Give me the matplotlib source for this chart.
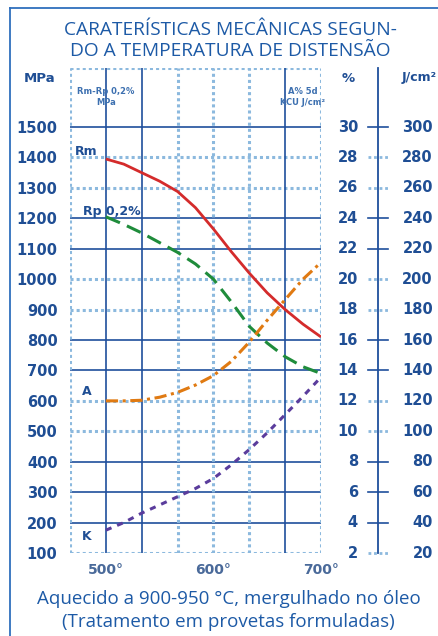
import matplotlib
matplotlib.use('Agg')
import matplotlib.pyplot as plt
from matplotlib.transforms import blended_transform_factory

# data
temps = [500, 516.7, 533.3, 550, 566.7, 583.3, 600, 616.7, 633.3, 650, 666.7, 683.3, 700]
rm = [1395, 1378, 1350, 1322, 1288, 1235, 1165, 1090, 1020, 955, 900, 852, 810]          # MPa
rp = [1205, 1180, 1152, 1120, 1088, 1050, 1000, 925, 845, 790, 745, 712, 690]            # MPa
a_pct = [12.0, 12.0, 12.04, 12.24, 12.56, 13.04, 13.66, 14.6, 15.86, 17.3, 18.66, 20.0, 21.1]  # %
k_j = [35, 40, 46.2, 51.6, 57, 62.4, 69, 78, 88, 99, 111, 123, 135.6]                    # J/cm2

mpa_ticks = list(range(100, 1600, 100))
pct_ticks = list(range(2, 32, 2))
j_ticks = list(range(20, 320, 20))
dark_levels = [1500, 1200, 1100, 800, 700, 400, 300, 200]
x_grid = [466.67, 500, 533.33, 566.67, 600, 633.33, 666.67, 700]
x_dark = [500, 533.33, 666.67]
x_ticks = [500, 600, 700]
x_labels = ["500°", "600°", "700°"]

W, H = 439, 636
BLUE = '#1d5aa6'
DARK = '#1f4f9c'
LIGHT = '#8cb9de'
LABEL = '#1f4e94'

def fx(x):
    return x / W

def fy(y):
    return 1 - y / H

fig = plt.figure(figsize=(W / 100, H / 100), dpi=100)
ax = fig.add_axes([fx(70), fy(553), (321 - 70) / W, (553 - 68) / H])
ax.set_xlim(466.67, 700)
ax.set_ylim(100, 1694)
for s in ax.spines.values():
    s.set_visible(False)

# grid
for v in mpa_ticks:
    if v in dark_levels:
        ax.axhline(v, color=DARK, lw=1.2, zorder=1)
    else:
        ax.axhline(v, color=LIGHT, lw=2.2, ls=(0, (1, 1)), zorder=1)
ax.axhline(1694, color=LIGHT, lw=2.2, ls=(0, (1, 1)), zorder=1)
for v in x_grid:
    if v in x_dark:
        ax.axvline(v, color=DARK, lw=1.2, zorder=1)
    else:
        ax.axvline(v, color=LIGHT, lw=2.2, ls=(0, (1, 1)), zorder=1)

# curves (A and K mapped onto the MPa scale: 1 % = 50 MPa, 1 J/cm2 = 5 MPa)
ax.plot(temps, rm, color='#d42b2b', lw=2.0, solid_capstyle='butt', zorder=3)
ax.plot(temps, rp, color='#1f8c3b', lw=2.2, ls=(0, (5, 2.5)), zorder=3)
ax.plot(temps, [p * 50 for p in a_pct], color='#e07a12', lw=2.2, ls=(0, (4, 1.5, 1, 1.5)), zorder=3)
ax.plot(temps, [j * 5 for j in k_j], color='#5a3c9c', lw=2.2, ls=(0, (2, 2)), zorder=3)

# labels inside
ax.text(471, 1420, "Rm", color=LABEL, fontsize=9, fontweight='bold', va='center')
ax.text(479, 1222, "Rp 0,2%", color=LABEL, fontsize=9, fontweight='bold', va='center')
ax.text(478, 632, "A", color=LABEL, fontsize=9, fontweight='bold', va='center')
ax.text(478, 155, "K", color=LABEL, fontsize=9, fontweight='bold', va='center')

# header cells
ax.text(500, 1600, "Rm-Rp 0,2%\nMPa", color='#3d70b0', fontsize=6, fontweight='bold',
        ha='center', va='center', linespacing=1.3)
ax.text(683, 1600, "A% 5d\nKCU J/cm²", color='#3d70b0', fontsize=6, fontweight='bold',
        ha='center', va='center', linespacing=1.3)

# axes ticks
ax.set_yticks(mpa_ticks)
ax.set_yticklabels([str(v) for v in mpa_ticks], fontsize=10.5, fontweight='bold', color=LABEL)
ax.set_xticks(x_ticks)
ax.set_xticklabels(x_labels, fontsize=10, fontweight='bold', color='#4a6a9a')
ax.tick_params(axis='y', length=0, pad=9)
ax.tick_params(axis='x', length=0, pad=7)

# right-hand scales
tr = blended_transform_factory(fig.transFigure, ax.transData)
ax.plot([fx(378), fx(378)], [100, 1694], color=DARK, lw=1.3, transform=tr, clip_on=False)
for p, j, v in zip(pct_ticks, j_ticks, mpa_ticks):
    if v in dark_levels:
        ax.plot([fx(368), fx(388)], [v, v], color=DARK, lw=1.2, transform=tr, clip_on=False)
    else:
        ax.plot([fx(368), fx(388)], [v, v], color=LIGHT, lw=2.0, ls=(0, (1, 1)),
                transform=tr, clip_on=False)
    ax.text(fx(358), v, str(p), transform=tr, ha='right', va='center',
            fontsize=10.5, fontweight='bold', color=LABEL)
    ax.text(fx(433), v, str(j), transform=tr, ha='right', va='center',
            fontsize=10.5, fontweight='bold', color=LABEL)

# unit headers
fig.text(fx(40), fy(78), "MPa", ha='center', va='center', fontsize=9.5, fontweight='bold', color=LABEL)
fig.text(fx(348), fy(78), "%", ha='center', va='center', fontsize=9.5, fontweight='bold', color=LABEL)
fig.text(fx(437), fy(78), "J/cm²", ha='right', va='center', fontsize=9, fontweight='bold', color=LABEL)

# titles
fig.text(fx(230), fy(30), "CARATERÍSTICAS MECÂNICAS SEGUN-", ha='center', va='center',
         fontsize=13.8, color=BLUE, family='Open Sans')
fig.text(fx(230), fy(51), "DO A TEMPERATURA DE DISTENSÃO", ha='center', va='center',
         fontsize=13.8, color=BLUE, family='Open Sans')
fig.text(fx(229), fy(599), "Aquecido a 900-950 °C, mergulhado no óleo", ha='center', va='center',
         fontsize=13.5, color=BLUE, family='Open Sans')
fig.text(fx(228), fy(622), "(Tratamento em provetas formuladas)", ha='center', va='center',
         fontsize=13.5, color=BLUE, family='Open Sans')

# outer frame
fig.add_artist(plt.Line2D([fx(10), 1], [fy(8), fy(8)], color='#2f6fbd', lw=1.3))
fig.add_artist(plt.Line2D([fx(10), fx(10)], [fy(8), 0], color='#2f6fbd', lw=1.3))

fig.savefig('out.png', dpi=100, facecolor='white')
